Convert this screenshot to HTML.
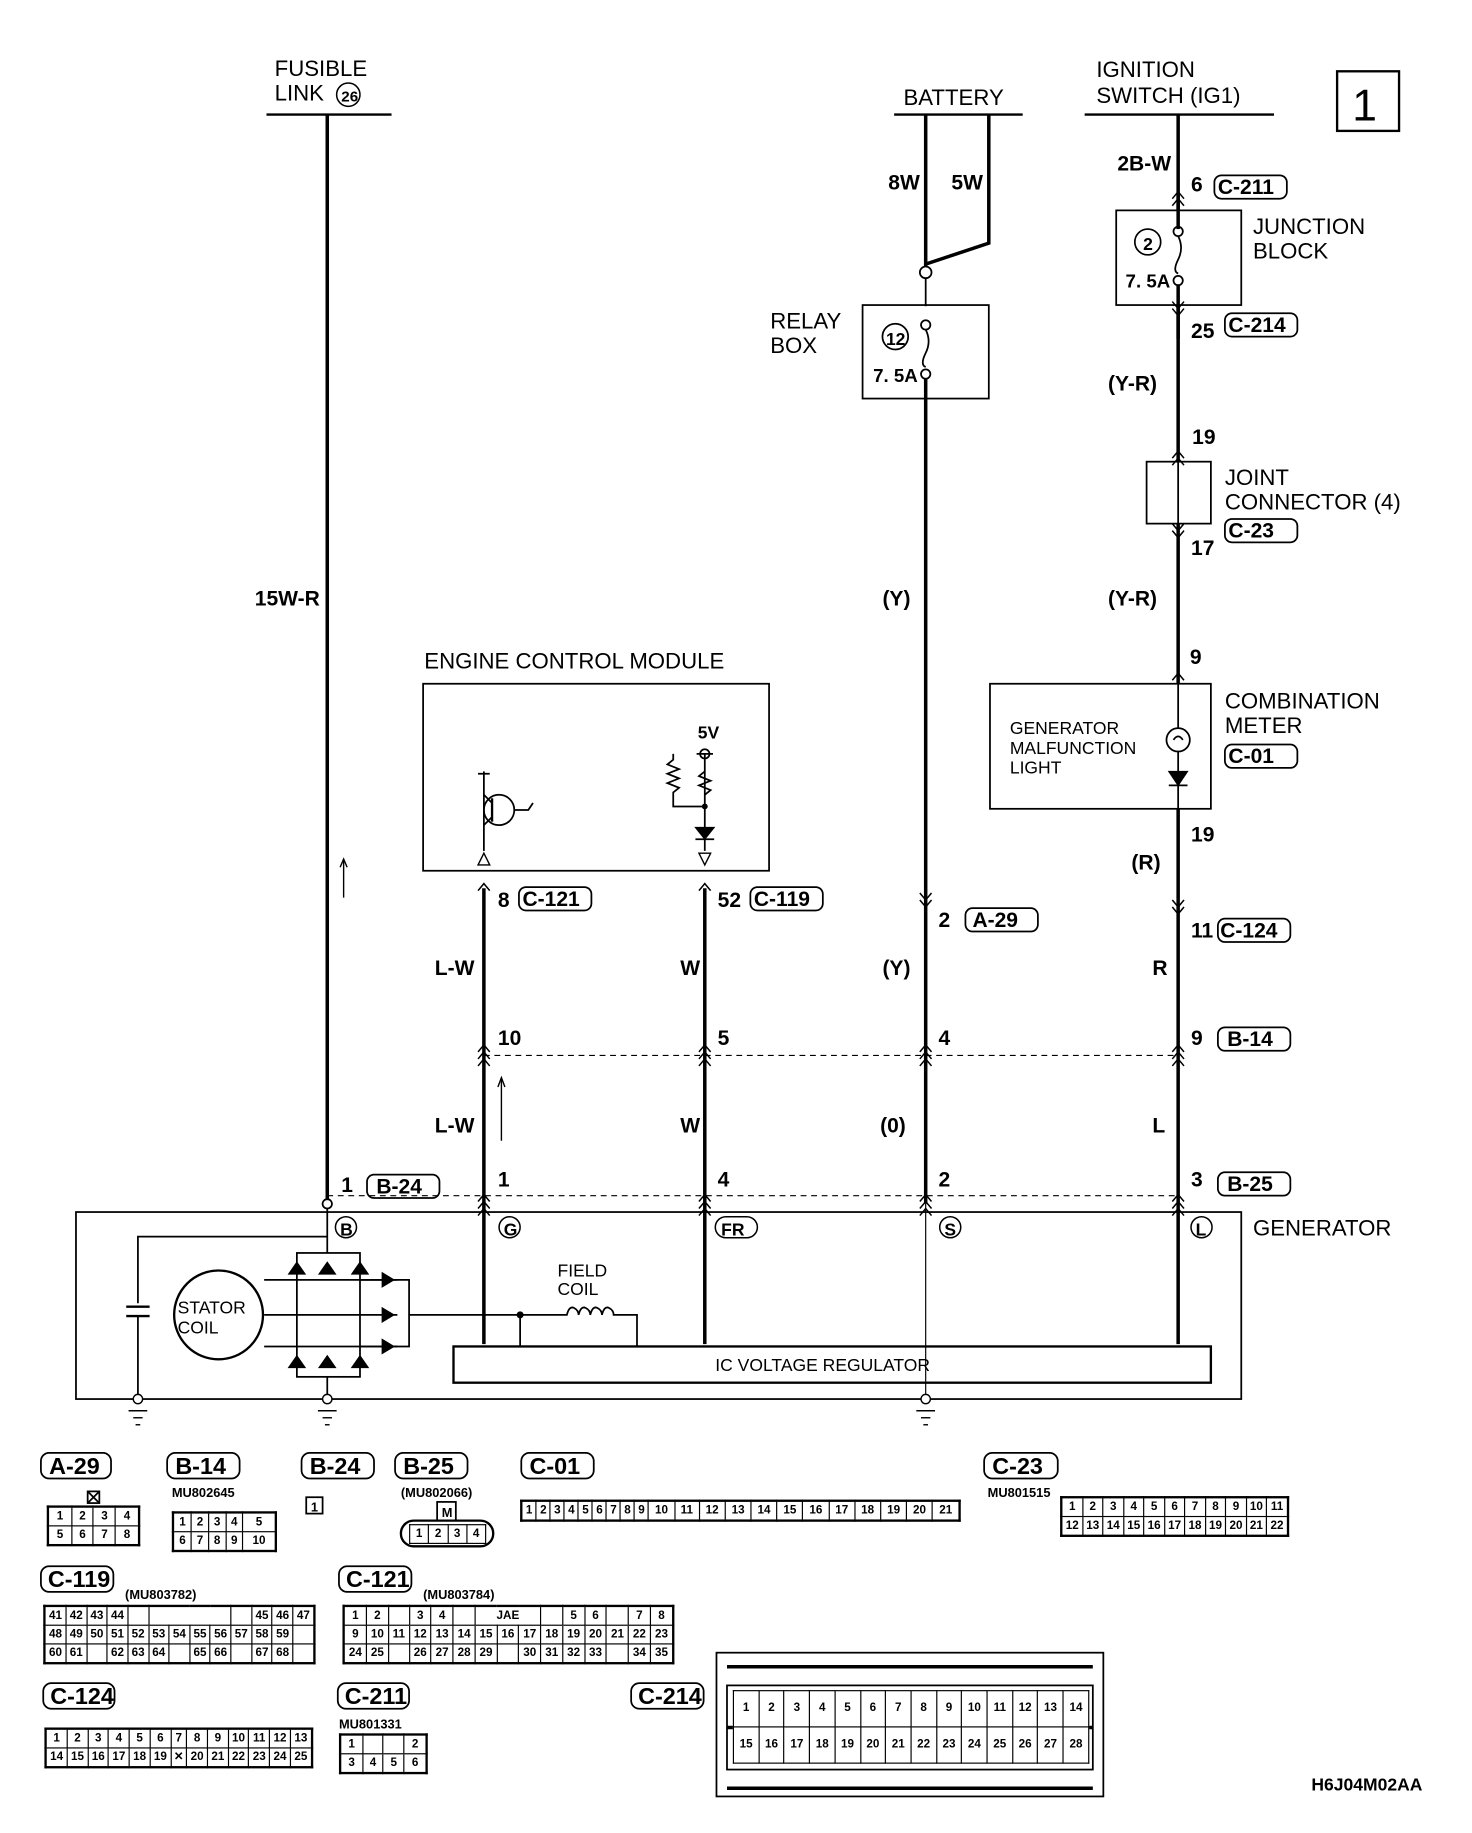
<!DOCTYPE html>
<html><head><meta charset="utf-8"><style>
html,body{margin:0;padding:0;background:#fff;width:1472px;height:1832px;overflow:hidden}
#c{position:absolute;left:0;top:0;width:1260px;height:1568px;transform:scale(1.1688);transform-origin:0 0}
svg{position:absolute;left:0;top:0}
text{font-family:"Liberation Sans",sans-serif;fill:#000}
.b{font-family:"Liberation Sans Narrow","Liberation Sans",sans-serif;font-weight:bold}
table{position:absolute;border-collapse:collapse;font-family:"Liberation Sans Narrow","Liberation Sans",sans-serif;font-weight:bold;font-size:10px;border:2px solid #000;background:#fff}
td{border:1px solid #000;text-align:center;padding:0;height:15px;line-height:14px}
td.e{border-top:none;border-bottom:none}
</style></head><body><div id="c">
<svg width="1260" height="1568" viewBox="0 0 1260 1568">
<g stroke="#000" fill="none">
<line x1="228" y1="98" x2="335" y2="98" stroke-width="2"/>
<line x1="765" y1="98" x2="875" y2="98" stroke-width="2"/>
<line x1="928" y1="98" x2="1090" y2="98" stroke-width="2"/>
<rect x="1144" y="61" width="53" height="51" stroke-width="2"/>
<line x1="280" y1="98" x2="280" y2="1030" stroke-width="3"/>
<line x1="792" y1="98" x2="792" y2="228" stroke-width="3"/>
<polyline points="846,98 846,208 792,226" stroke-width="3"/>
<circle cx="792" cy="233" r="5" stroke-width="1.5"/>
<line x1="792" y1="238" x2="792" y2="262" stroke-width="1.5"/>
<rect x="738" y="261" width="108" height="80" stroke-width="1.5"/>
<circle cx="792" cy="278" r="4" stroke-width="1.5"/>
<path d="M792 282 q5 10 0 20 q-5 10 0 12" stroke-width="1.5"/>
<circle cx="792" cy="320" r="4" stroke-width="1.5"/>
<circle cx="766" cy="288" r="11" stroke-width="1.5"/>
<line x1="792" y1="324" x2="792" y2="1030" stroke-width="3"/>
<line x1="1008" y1="98" x2="1008" y2="1150" stroke-width="3"/>
<rect x="955" y="180" width="107" height="81" stroke-width="1.5" fill="#fff"/>
<circle cx="1008" cy="198" r="4" stroke-width="1.5"/>
<path d="M1008 202 q5 10 0 20 q-5 10 0 12" stroke-width="1.5"/>
<circle cx="1008" cy="240" r="4" stroke-width="1.5"/>
<circle cx="982" cy="207" r="11" stroke-width="1.5"/>
<line x1="1008" y1="165" x2="1008" y2="196" stroke-width="3"/>
<line x1="1008" y1="244" x2="1008" y2="290" stroke-width="3"/>
<rect x="981" y="395" width="55" height="53" stroke-width="1.5" fill="#fff"/>
<line x1="1008" y1="380" x2="1008" y2="465" stroke-width="1.5"/>
<rect x="847" y="585" width="189" height="107" stroke-width="1.5" fill="#fff"/>
<line x1="1008" y1="570" x2="1008" y2="700" stroke-width="1.5"/>
<circle cx="1008" cy="633" r="10" stroke-width="1.5" fill="#fff"/>
<path d="M1004 633 q4 -6 8 0" stroke-width="1.5"/>
<polygon points="1000,660 1016,660 1008,672" fill="#000"/>
<line x1="1000" y1="672" x2="1016" y2="672" stroke-width="1.5"/>
<rect x="362" y="585" width="296" height="160" stroke-width="1.5"/>
<line x1="414" y1="760" x2="414" y2="1150" stroke-width="3"/>
<line x1="603" y1="760" x2="603" y2="1150" stroke-width="3"/>
<line x1="414" y1="660" x2="414" y2="728" stroke-width="1.5"/>
<circle cx="427" cy="693" r="13" stroke-width="1.5"/>
<line x1="421" y1="683" x2="421" y2="703" stroke-width="2"/>
<line x1="421" y1="687" x2="414" y2="680" stroke-width="1.5"/>
<line x1="421" y1="699" x2="414" y2="706" stroke-width="1.5"/>
<path d="M440 693 h12 q4 -6 4 -6" stroke-width="1.5"/>
<line x1="409" y1="662" x2="419" y2="662" stroke-width="1.5"/>
<polygon points="409,740 419,740 414,730" stroke-width="1.2"/>
<line x1="603" y1="645" x2="603" y2="728" stroke-width="1.5"/>
<circle cx="603" cy="645" r="4" stroke-width="1.5"/>
<line x1="596" y1="645" x2="610" y2="645" stroke-width="1.5"/>
<polyline points="576,645 576,650 571,654 581,658 571,662 581,666 571,670 581,674 576,678 576,690 603,690" stroke-width="1.5"/>
<polyline points="603,660 598,664 608,668 598,672 608,676 603,680" stroke-width="1.5"/>
<circle cx="603" cy="690" r="2" fill="#000"/>
<polygon points="595,708 611,708 603,718" fill="#000"/>
<line x1="595" y1="718" x2="611" y2="718" stroke-width="1.5"/>
<polygon points="598,730 608,730 603,740" stroke-width="1.2"/>
<line x1="414" y1="903" x2="1008" y2="903" stroke-width="1" stroke-dasharray="5,4"/>
<line x1="280" y1="1023" x2="1008" y2="1023" stroke-width="1" stroke-dasharray="5,4"/>
<line x1="294" y1="735" x2="294" y2="768" stroke-width="1.2"/><polyline points="291,742 294,735 297,742" stroke-width="1.2"/>
<line x1="429" y1="922" x2="429" y2="976" stroke-width="1.2"/><polyline points="426,930 429,922 432,930" stroke-width="1.2"/>
<rect x="65" y="1037" width="997" height="160" stroke-width="1.5"/>
<rect x="388" y="1152" width="648" height="31" stroke-width="2"/>
<line x1="792" y1="1030" x2="792" y2="1195" stroke-width="1"/>
<line x1="280" y1="1030" x2="280" y2="1060" stroke-width="1.5"/>
<circle cx="280" cy="1030" r="4" fill="#fff" stroke-width="1.5"/>
<polyline points="280,1058 118,1058 118,1115" stroke-width="1.5"/>
<line x1="108" y1="1118" x2="128" y2="1118" stroke-width="2"/>
<line x1="108" y1="1126" x2="128" y2="1126" stroke-width="2"/>
<line x1="118" y1="1126" x2="118" y2="1197" stroke-width="1.5"/>
<circle cx="187" cy="1125" r="38" stroke-width="2"/>
<rect x="254" y="1072" width="54" height="106" stroke-width="1.5"/>
<line x1="280" y1="1060" x2="280" y2="1072" stroke-width="1.5"/>
<line x1="280" y1="1178" x2="280" y2="1197" stroke-width="1.5"/>
<line x1="226" y1="1095" x2="340" y2="1095" stroke-width="1.5"/>
<line x1="226" y1="1125" x2="340" y2="1125" stroke-width="1.5"/>
<line x1="226" y1="1152" x2="340" y2="1152" stroke-width="1.5"/>
<polyline points="308,1095 350,1095 350,1152 308,1152" stroke-width="1.5"/>
<line x1="350" y1="1125" x2="445" y2="1125" stroke-width="1.5"/>
<line x1="445" y1="1125" x2="445" y2="1152" stroke-width="1.5"/>
<circle cx="445" cy="1125" r="2.5" fill="#000"/>
<path d="M445 1125 h40 q2 -8 6 -6 q4 2 4 6 q2 -8 6 -6 q4 2 4 6 q2 -8 6 -6 q4 2 4 6 q2 -8 6 -6 q4 2 4 6 h20 v27" stroke-width="1.5"/>
<g fill="#000" stroke-width="1">
<polygon points="247,1090 261,1090 254,1080"/><polygon points="273,1090 287,1090 280,1080"/><polygon points="301,1090 315,1090 308,1080"/>
<polygon points="247,1170 261,1170 254,1160"/><polygon points="273,1170 287,1170 280,1160"/><polygon points="301,1170 315,1170 308,1160"/>
<polygon points="327,1089 327,1101 337,1095"/><polygon points="327,1119 327,1131 337,1125"/><polygon points="327,1146 327,1158 337,1152"/>
</g>
<g stroke-width="1.2">
<circle cx="118" cy="1197" r="4" fill="#fff"/><line x1="110" y1="1207" x2="126" y2="1207"/><line x1="114" y1="1213" x2="122" y2="1213"/><line x1="116" y1="1219" x2="120" y2="1219"/>
<circle cx="280" cy="1197" r="4" fill="#fff"/><line x1="272" y1="1207" x2="288" y2="1207"/><line x1="276" y1="1213" x2="284" y2="1213"/><line x1="278" y1="1219" x2="282" y2="1219"/>
<circle cx="792" cy="1197" r="4" fill="#fff"/><line x1="784" y1="1207" x2="800" y2="1207"/><line x1="788" y1="1213" x2="796" y2="1213"/><line x1="790" y1="1219" x2="794" y2="1219"/>
</g>
<g stroke-width="1.3" fill="#fff">
<circle cx="296" cy="1050" r="9"/><circle cx="436" cy="1050" r="9"/><rect x="612" y="1041" width="36" height="18" rx="9"/><circle cx="813" cy="1050" r="9"/><circle cx="1028" cy="1050" r="9"/>
<circle cx="298" cy="81" r="10"/><circle cx="982" cy="207" r="11"/>
</g>
<g stroke-width="1.3">
<polyline points="1003,170 1008,164 1013,170"/><polyline points="1003,176 1008,170 1013,176"/>
<polyline points="1003,258 1008,264 1013,258"/><polyline points="1003,264 1008,270 1013,264"/>
<polyline points="1003,392 1008,386 1013,392"/><polyline points="1003,398 1008,392 1013,398"/>
<polyline points="1003,448 1008,454 1013,448"/><polyline points="1003,454 1008,460 1013,454"/>
<polyline points="1003,582 1008,576 1013,582"/>
<polyline points="1003,770 1008,776 1013,770"/><polyline points="1003,776 1008,782 1013,776"/>
<polyline points="787,764 792,770 797,764"/><polyline points="787,770 792,776 797,770"/>
<polyline points="409,762 414,756 419,762"/><polyline points="598,762 603,756 608,762"/>
<polyline points="409,900 414,894 419,900"/><polyline points="409,906 414,900 419,906"/><polyline points="409,912 414,906 419,912"/>
<polyline points="598,900 603,894 608,900"/><polyline points="598,906 603,900 608,906"/><polyline points="598,912 603,906 608,912"/>
<polyline points="787,900 792,894 797,900"/><polyline points="787,906 792,900 797,906"/><polyline points="787,912 792,906 797,912"/>
<polyline points="1003,900 1008,894 1013,900"/><polyline points="1003,906 1008,900 1013,906"/><polyline points="1003,912 1008,906 1013,912"/>
<polyline points="409,1028 414,1022 419,1028"/><polyline points="409,1034 414,1028 419,1034"/><polyline points="409,1040 414,1034 419,1040"/>
<polyline points="598,1028 603,1022 608,1028"/><polyline points="598,1034 603,1028 608,1034"/><polyline points="598,1040 603,1034 608,1040"/>
<polyline points="787,1028 792,1022 797,1028"/><polyline points="787,1034 792,1028 797,1034"/><polyline points="787,1040 792,1034 797,1040"/>
<polyline points="1003,1028 1008,1022 1013,1028"/><polyline points="1003,1034 1008,1028 1013,1034"/><polyline points="1003,1040 1008,1034 1013,1040"/>
</g>
<g stroke-width="1.5">
<rect x="1039" y="150" width="62" height="20" rx="6"/><rect x="1048" y="268" width="62" height="20" rx="6"/>
<rect x="1048" y="444" width="62" height="20" rx="6"/><rect x="1048" y="637" width="62" height="20" rx="6"/>
<rect x="444" y="759" width="62" height="20" rx="6"/><rect x="642" y="759" width="62" height="20" rx="6"/>
<rect x="826" y="777" width="62" height="20" rx="6"/><rect x="1042" y="786" width="62" height="20" rx="6"/>
<rect x="1042" y="879" width="62" height="20" rx="6"/><rect x="314" y="1005" width="62" height="20" rx="6"/>
<rect x="1042" y="1003" width="62" height="20" rx="6"/>
<rect x="35" y="1243" width="60" height="22" rx="7"/><rect x="143" y="1243" width="62" height="22" rx="7"/><rect x="258" y="1243" width="62" height="22" rx="7"/><rect x="338" y="1243" width="62" height="22" rx="7"/><rect x="446" y="1243" width="62" height="22" rx="7"/><rect x="842" y="1243" width="63" height="22" rx="7"/>
<rect x="35" y="1340" width="62" height="22" rx="7"/><rect x="290" y="1340" width="62" height="22" rx="7"/>
<rect x="37" y="1440" width="61" height="22" rx="7"/><rect x="289" y="1440" width="61" height="22" rx="7"/><rect x="540" y="1440" width="62" height="22" rx="7"/>
<rect x="262" y="1281" width="14" height="14"/>
<rect x="75" y="1276" width="10" height="10"/><line x1="75" y1="1276" x2="85" y2="1286"/><line x1="85" y1="1276" x2="75" y2="1286"/>
<rect x="343" y="1301" width="79" height="22" rx="11" stroke-width="2"/>
<rect x="374" y="1285" width="16" height="16"/>
<rect x="613" y="1414" width="331" height="123" stroke-width="1.5"/>
<rect x="622" y="1442" width="313" height="72" stroke-width="1.5"/>
<line x1="622" y1="1426" x2="935" y2="1426" stroke-width="3"/>
<line x1="622" y1="1530" x2="935" y2="1530" stroke-width="3"/>
<line x1="622" y1="1478" x2="935" y2="1478" stroke-width="3"/>
</g>
</g>
<g font-size="19">
<text x="235" y="65">FUSIBLE</text><text x="235" y="86">LINK</text>
<text x="773" y="90">BATTERY</text>
<text x="938" y="66">IGNITION</text><text x="938" y="88">SWITCH (IG1)</text>
<text x="1072" y="200">JUNCTION</text><text x="1072" y="221">BLOCK</text>
<text x="659" y="281">RELAY</text><text x="659" y="302">BOX</text>
<text x="1048" y="415">JOINT</text><text x="1048" y="436">CONNECTOR (4)</text>
<text x="1048" y="606">COMBINATION</text><text x="1048" y="627">METER</text>
<text x="363" y="572">ENGINE CONTROL MODULE</text>
<text x="1072" y="1057">GENERATOR</text>
</g>
<text x="1157" y="103" font-size="38">1</text>
<text x="292" y="87" font-size="13" class="b">26</text>
<g font-size="15"><text x="864" y="628">GENERATOR</text><text x="864" y="645">MALFUNCTION</text><text x="864" y="662">LIGHT</text>
<text x="477" y="1092">FIELD</text><text x="477" y="1108">COIL</text>
<text x="152" y="1124">STATOR</text><text x="152" y="1141">COIL</text>
<text x="612" y="1173">IC VOLTAGE REGULATOR</text></g>
<g font-size="18" class="b">
<text x="760" y="162">8W</text><text x="814" y="162">5W</text><text x="956" y="146">2B-W</text>
<text x="1019" y="164">6</text><text x="1042" y="166">C-211</text>
<text x="1019" y="289">25</text><text x="1051" y="284">C-214</text>
<text x="948" y="334">(Y-R)</text><text x="1020" y="380">19</text>
<text x="1019" y="475">17</text><text x="1051" y="460">C-23</text>
<text x="218" y="518">15W-R</text><text x="755" y="518">(Y)</text><text x="948" y="518">(Y-R)</text>
<text x="1018" y="568">9</text><text x="1051" y="653">C-01</text>
<text x="1019" y="720">19</text><text x="968" y="744">(R)</text>
<text x="597" y="632" font-size="15">5V</text>
<text x="426" y="776">8</text><text x="447" y="775">C-121</text>
<text x="614" y="776">52</text><text x="645" y="775">C-119</text>
<text x="803" y="793">2</text><text x="832" y="793">A-29</text>
<text x="1019" y="802">11</text><text x="1044" y="802">C-124</text>
<text x="372" y="834">L-W</text><text x="582" y="834">W</text><text x="755" y="834">(Y)</text><text x="986" y="834">R</text>
<text x="426" y="894">10</text><text x="614" y="894">5</text><text x="803" y="894">4</text><text x="1019" y="894">9</text><text x="1050" y="895">B-14</text>
<text x="372" y="969">L-W</text><text x="582" y="969">W</text><text x="753" y="969">(0)</text><text x="986" y="969">L</text>
<text x="292" y="1020">1</text><text x="322" y="1021">B-24</text>
<text x="426" y="1015">1</text><text x="614" y="1015">4</text><text x="803" y="1015">2</text><text x="1019" y="1015">3</text><text x="1050" y="1019">B-25</text>
<text x="747" y="327" font-size="16">7. 5A</text><text x="963" y="246" font-size="16">7. 5A</text>
<text x="758" y="295" font-size="15">12</text><text x="978" y="214" font-size="15">2</text>
<text x="291" y="1057" font-size="15">B</text><text x="431" y="1057" font-size="15">G</text><text x="617" y="1057" font-size="15">FR</text><text x="808" y="1057" font-size="15">S</text><text x="1023" y="1057" font-size="15">L</text>
<text x="42" y="1261" font-size="20">A-29</text><text x="150" y="1261" font-size="20">B-14</text><text x="265" y="1261" font-size="20">B-24</text><text x="345" y="1261" font-size="20">B-25</text><text x="453" y="1261" font-size="20">C-01</text><text x="849" y="1261" font-size="20">C-23</text>
<text x="41" y="1358" font-size="20">C-119</text><text x="296" y="1358" font-size="20">C-121</text>
<text x="43" y="1458" font-size="20">C-124</text><text x="295" y="1458" font-size="20">C-211</text><text x="546" y="1458" font-size="20">C-214</text>
<text x="266" y="1293" font-size="11">1</text><text x="378" y="1298" font-size="11">M</text>
<text x="147" y="1281" font-size="11">MU802645</text><text x="343" y="1281" font-size="11">(MU802066)</text><text x="845" y="1281" font-size="11">MU801515</text>
<text x="107" y="1368" font-size="11">(MU803782)</text><text x="362" y="1368" font-size="11">(MU803784)</text><text x="290" y="1479" font-size="11">MU801331</text>
<text x="1122" y="1532" font-size="15">H6J04M02AA</text>
</g>
</svg>

<table style="left:40px;top:1288px;width:80px"><tr><td>1</td><td>2</td><td>3</td><td>4</td></tr><tr><td>5</td><td>6</td><td>7</td><td>8</td></tr></table>
<table style="left:147px;top:1293px;width:90px"><tr><td>1</td><td>2</td><td>3</td><td>4</td><td>5</td></tr><tr><td>6</td><td>7</td><td>8</td><td>9</td><td>10</td></tr></table>
<table style="left:350px;top:1304px;width:66px;border:none;background:none"><tr><td>1</td><td>2</td><td>3</td><td>4</td></tr></table>
<table style="left:445px;top:1283px;width:377px"><tr><td>1</td><td>2</td><td>3</td><td>4</td><td>5</td><td>6</td><td>7</td><td>8</td><td>9</td><td>10</td><td>11</td><td>12</td><td>13</td><td>14</td><td>15</td><td>16</td><td>17</td><td>18</td><td>19</td><td>20</td><td>21</td></tr></table>
<table style="left:907px;top:1280px;width:196px"><tr><td>1</td><td>2</td><td>3</td><td>4</td><td>5</td><td>6</td><td>7</td><td>8</td><td>9</td><td>10</td><td>11</td></tr><tr><td>12</td><td>13</td><td>14</td><td>15</td><td>16</td><td>17</td><td>18</td><td>19</td><td>20</td><td>21</td><td>22</td></tr></table>
<table style="left:37px;top:1373px;width:233px"><tr><td>41</td><td>42</td><td>43</td><td>44</td><td class="e"></td><td colspan="4"></td><td class="e"></td><td>45</td><td>46</td><td>47</td></tr><tr><td>48</td><td>49</td><td>50</td><td>51</td><td>52</td><td>53</td><td>54</td><td>55</td><td>56</td><td>57</td><td>58</td><td>59</td><td></td></tr><tr><td>60</td><td>61</td><td class="e"></td><td>62</td><td>63</td><td>64</td><td class="e"></td><td>65</td><td>66</td><td class="e"></td><td>67</td><td>68</td><td></td></tr></table>
<table style="left:293px;top:1373px;width:284px"><tr><td>1</td><td>2</td><td class="e"></td><td>3</td><td>4</td><td class="e"></td><td colspan="3">JAE</td><td class="e"></td><td>5</td><td>6</td><td class="e"></td><td>7</td><td>8</td></tr><tr><td>9</td><td>10</td><td>11</td><td>12</td><td>13</td><td>14</td><td>15</td><td>16</td><td>17</td><td>18</td><td>19</td><td>20</td><td>21</td><td>22</td><td>23</td></tr><tr><td>24</td><td>25</td><td class="e"></td><td>26</td><td>27</td><td>28</td><td>29</td><td class="e"></td><td>30</td><td>31</td><td>32</td><td>33</td><td class="e"></td><td>34</td><td>35</td></tr></table>
<table style="left:38px;top:1478px;width:230px"><tr><td>1</td><td>2</td><td>3</td><td>4</td><td>5</td><td>6</td><td>7</td><td>8</td><td>9</td><td>10</td><td>11</td><td>12</td><td>13</td></tr><tr><td>14</td><td>15</td><td>16</td><td>17</td><td>18</td><td>19</td><td>✕</td><td>20</td><td>21</td><td>22</td><td>23</td><td>24</td><td>25</td></tr></table>
<table style="left:290px;top:1483px;width:76px"><tr><td>1</td><td class="e"></td><td class="e"></td><td>2</td></tr><tr><td>3</td><td>4</td><td>5</td><td>6</td></tr></table>
<table style="left:627px;top:1446px;width:305px;border:1px solid #000"><tr><td style="height:30px">1</td><td>2</td><td>3</td><td>4</td><td>5</td><td>6</td><td>7</td><td>8</td><td>9</td><td>10</td><td>11</td><td>12</td><td>13</td><td>14</td></tr><tr><td style="height:30px">15</td><td>16</td><td>17</td><td>18</td><td>19</td><td>20</td><td>21</td><td>22</td><td>23</td><td>24</td><td>25</td><td>26</td><td>27</td><td>28</td></tr></table>
</div></body></html>
